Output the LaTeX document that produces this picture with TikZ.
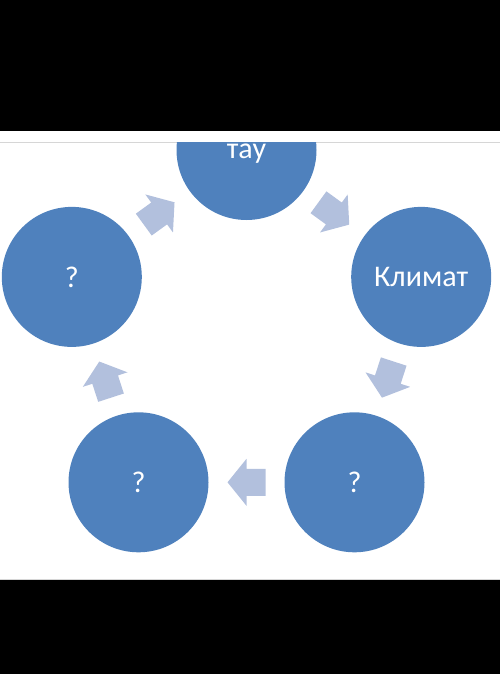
\documentclass[tikz,border=0pt]{standalone}
\usepackage{fontspec}
\setmainfont{Carlito}
\usetikzlibrary{calc}
\definecolor{nodeblue}{HTML}{4F81BD}
\definecolor{arrowblue}{HTML}{B2C0DD}
\definecolor{edgegray}{HTML}{D6D6D6}
\begin{document}
\begin{tikzpicture}[x=0.5pt,y=-0.5pt,
  cyclenode/.style={circle, fill=nodeblue, minimum size=70pt, inner sep=0pt,
    text=white, font=\fontsize{15}{18}\selectfont},
  cyclearrow/.pic={\fill[arrowblue] (-19,-13.5) -- (0,-13.5) -- (0,-23.5) -- (19,0)
     -- (0,23.5) -- (0,13.5) -- (-19,13.5) -- cycle;}]
\useasboundingbox (0,0) rectangle (500,674);
\fill[black] (0,0) rectangle (500,131);
\fill[black] (0,580) rectangle (500,674);
\draw[edgegray, line width=0.5pt] (0,142) -- (500,142);
\draw[edgegray, line width=0.5pt] (0,579.5) -- (500,579.5);
\begin{scope}
  \clip (0,142.5) rectangle (500,579);
  \node[cyclenode, text depth=0pt, text height=8.5pt] (ntop) at (246.5,150) {тау};
  \node[cyclenode] (nright) at (421.2,276.9) {Климат};
  \node[cyclenode] (nbright) at (354.5,482.3) {?};
  \node[cyclenode] (nbleft) at (138.5,482.3) {?};
  \node[cyclenode] (nleft) at (71.8,276.9) {?};
\end{scope}
\pic[rotate=-36] at ($(ntop)!0.5!(nright)$) {cyclearrow};
\pic[rotate=-108] at ($(nright)!0.5!(nbright)$) {cyclearrow};
\pic[rotate=180] at ($(nbright)!0.5!(nbleft)$) {cyclearrow};
\pic[rotate=108] at ($(nbleft)!0.5!(nleft)$) {cyclearrow};
\pic[rotate=36] at ($(nleft)!0.5!(ntop)$) {cyclearrow};
\end{tikzpicture}
\end{document}
